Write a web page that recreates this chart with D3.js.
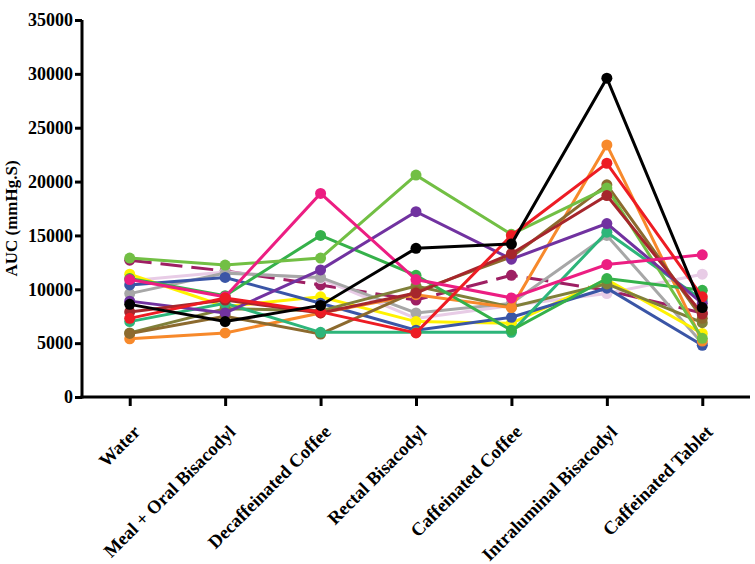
<!DOCTYPE html>
<html>
<head>
<meta charset="utf-8">
<script src="https://cdnjs.cloudflare.com/ajax/libs/d3/7.8.5/d3.min.js"></script>
<style>
  body { margin: 0; background: #fff; }
  text { font-family: "Liberation Serif", "Times New Roman", serif; font-weight: bold; }
</style>
</head>
<body>
<div class="graph"></div>
<script>
var categories = ["Water", "Meal + Oral Bisacodyl", "Decaffeinated Coffee", "Rectal Bisacodyl",
                  "Caffeinated Coffee", "Intraluminal Bisacodyl", "Caffeinated Tablet"];
var yTicks = [0, 5000, 10000, 15000, 20000, 25000, 30000, 35000];

// one array per subject, drawn bottom to top
var maroon    = [12700, 11700, 10400, 9000, 11300, 9900, 7800];
var lavender  = [10800, 11600, 11000, 7300, 8500, 9600, 11400];
var gray      = [9600, 11500, 11100, 7800, 8700, 15000, 5000];
var yellow    = [11400, 8400, 9300, 7000, 6850, 10900, 5900];
var blue      = [10400, 11100, 8700, 6200, 7400, 10100, 4800];
var olive     = [5950, 8200, 8000, 10300, 8350, 10500, 6900];
var orange    = [5400, 5950, 7800, 9500, 8300, 23400, 5200];
var brown     = [5900, 7500, 5850, 9800, 13000, 19700, 7300];
var teal      = [7000, 8700, 6000, 6000, 6000, 15300, 9000];
var green     = [11000, 9400, 15000, 11300, 6200, 11000, 9900];
var lightgreen= [12900, 12250, 12900, 20600, 15100, 19400, 5450];
var purple    = [8900, 7800, 11800, 17200, 12800, 16100, 8700];
var darkred   = [7900, 9000, 7800, 9650, 13300, 18700, 7700];
var magenta   = [10900, 9300, 18900, 10900, 9200, 12300, 13200];
var red       = [7300, 9200, 7900, 5950, 15000, 21700, 9300];
var black     = [8600, 7000, 8500, 13800, 14200, 29600, 8300];

var series = [
  {values: maroon, color: "#9e1f63", dash: "22,9"},
  {values: lavender, color: "#e8cce6"},
  {values: gray, color: "#a7a7a7"},
  {values: yellow, color: "#fff200"},
  {values: blue, color: "#3a55a6"},
  {values: olive, color: "#80803a"},
  {values: orange, color: "#f7892b"},
  {values: brown, color: "#8c6a2e"},
  {values: teal, color: "#2db57a"},
  {values: green, color: "#35b14a"},
  {values: lightgreen, color: "#72bf44"},
  {values: purple, color: "#7132a0"},
  {values: darkred, color: "#a6262c"},
  {values: magenta, color: "#ec1e82"},
  {values: red, color: "#ed1c24"},
  {values: black, color: "#000000"}
];

var w = 755, h = 564;
var padLeft = 82, padRight = 750, padTop = 20, padBottom = 397;

var svg = d3.select("div.graph").append("svg")
  .attr("width", w)
  .attr("height", h);

var x = d3.scalePoint().domain(categories).range([padLeft, padRight]).padding(0.5);
var y = d3.scaleLinear().domain([0, 35000]).range([padBottom, padTop]);

// axes
var yAxis = svg.append("g")
  .attr("transform", "translate(" + padLeft + ",0)")
  .call(d3.axisLeft(y).tickValues(yTicks).tickSize(7).tickPadding(2).tickFormat(d3.format("d")));
yAxis.selectAll("text").style("font-size", "18px").attr("fill", "#000");

var xAxis = svg.append("g")
  .attr("transform", "translate(0," + padBottom + ")")
  .call(d3.axisBottom(x).tickSize(9).tickSizeOuter(0));
xAxis.selectAll("text")
  .style("font-size", "18.5px").attr("fill", "#000")
  .attr("text-anchor", "end")
  .attr("dy", "0.35em")
  .attr("transform", "translate(-2,23) rotate(-45)");

svg.selectAll(".domain, .tick line").attr("stroke", "#000").attr("stroke-width", 3);
yAxis.select(".domain").attr("d", "M0," + padTop + "V" + (padBottom + 1.5));
xAxis.select(".domain").attr("d", "M" + (padLeft - 1.5) + ",0H" + padRight);

svg.append("text")
  .attr("transform", "translate(17," + ((padTop + padBottom) / 2 + 10) + ") rotate(-90)")
  .attr("text-anchor", "middle")
  .style("font-size", "17px")
  .text("AUC (mmHg.S)");

var line = d3.line()
  .x(function(d, i) { return x(categories[i]); })
  .y(function(d) { return y(d); });

series.forEach(function(s) {
  var g = svg.append("g");
  g.append("path")
    .attr("d", line(s.values))
    .attr("fill", "none")
    .attr("stroke", s.color)
    .attr("stroke-width", 3)
    .attr("stroke-dasharray", s.dash || null);
  g.selectAll("circle")
    .data(s.values)
    .enter()
    .append("circle")
    .attr("cx", function(d, i) { return x(categories[i]); })
    .attr("cy", function(d) { return y(d); })
    .attr("r", 5.5)
    .attr("fill", s.color);
});
</script>
</body>
</html>
